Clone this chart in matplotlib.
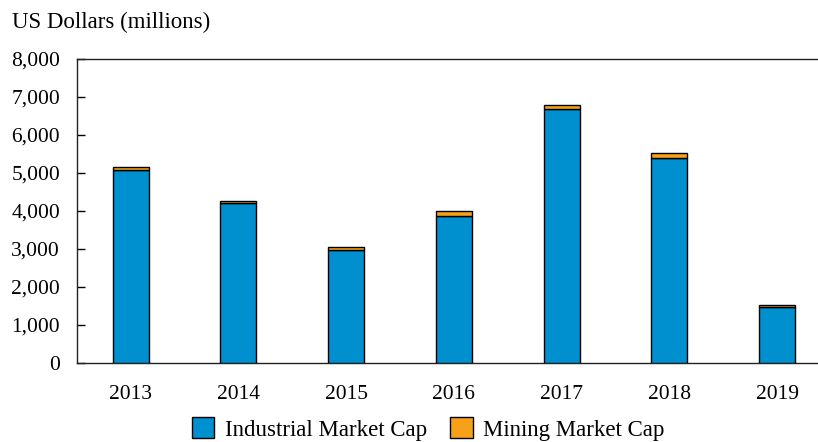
import matplotlib
matplotlib.use("Agg")
import matplotlib.pyplot as plt
from matplotlib.ticker import FuncFormatter

years = ["2013", "2014", "2015", "2016", "2017", "2018", "2019"]
industrial = [5070, 4210, 2960, 3860, 6680, 5380, 1470]
mining = [80, 55, 75, 130, 110, 140, 55]

plt.rcParams['font.family'] = ['Liberation Serif', 'DejaVu Serif']

fig = plt.figure(figsize=(8.18, 4.42), dpi=100)
W, H = 818, 442
left, right, top, bottom = 76.7, 831, 59, 362.7
ax = fig.add_axes([left / W, 1 - bottom / H, (right - left) / W, (bottom - top) / H])

x = list(range(len(years)))
bw = 0.335
ax.bar(x, industrial, bw, color="#0090CF", edgecolor="black", linewidth=1.0,
       label="Industrial Market Cap", zorder=3)
ax.bar(x, mining, bw, bottom=industrial, color="#F7A11A", edgecolor="black",
       linewidth=1.0, label="Mining Market Cap", zorder=3)

ax.set_xlim(-0.5, len(years) - 0.5)
ax.set_ylim(0, 8000)
ax.set_yticks(range(0, 8001, 1000))
ax.yaxis.set_major_formatter(FuncFormatter(lambda v, p: f"{int(v):,}"))
ax.set_xticks(x)
ax.set_xticklabels(years)
ax.tick_params(axis="y", direction="in", length=6, width=1, labelsize=15.5, pad=12)
ax.tick_params(axis="x", length=0, labelsize=15.5, pad=16)
for s in ["top", "left", "bottom", "right"]:
    ax.spines[s].set_color("#222222")
    ax.spines[s].set_linewidth(1.0)

fig.text(12 / W, 1 - 22 / H, "US Dollars (millions)", fontsize=16.5, ha="left", va="center")

leg = fig.legend(loc="center", bbox_to_anchor=(428 / W, 1 - 429 / H), ncol=2, frameon=False,
                 fontsize=16.5, handlelength=1.0, handleheight=1.0, handletextpad=0.45,
                 columnspacing=1.0, borderaxespad=0, borderpad=0)

fig.savefig("out.png", dpi=100)
